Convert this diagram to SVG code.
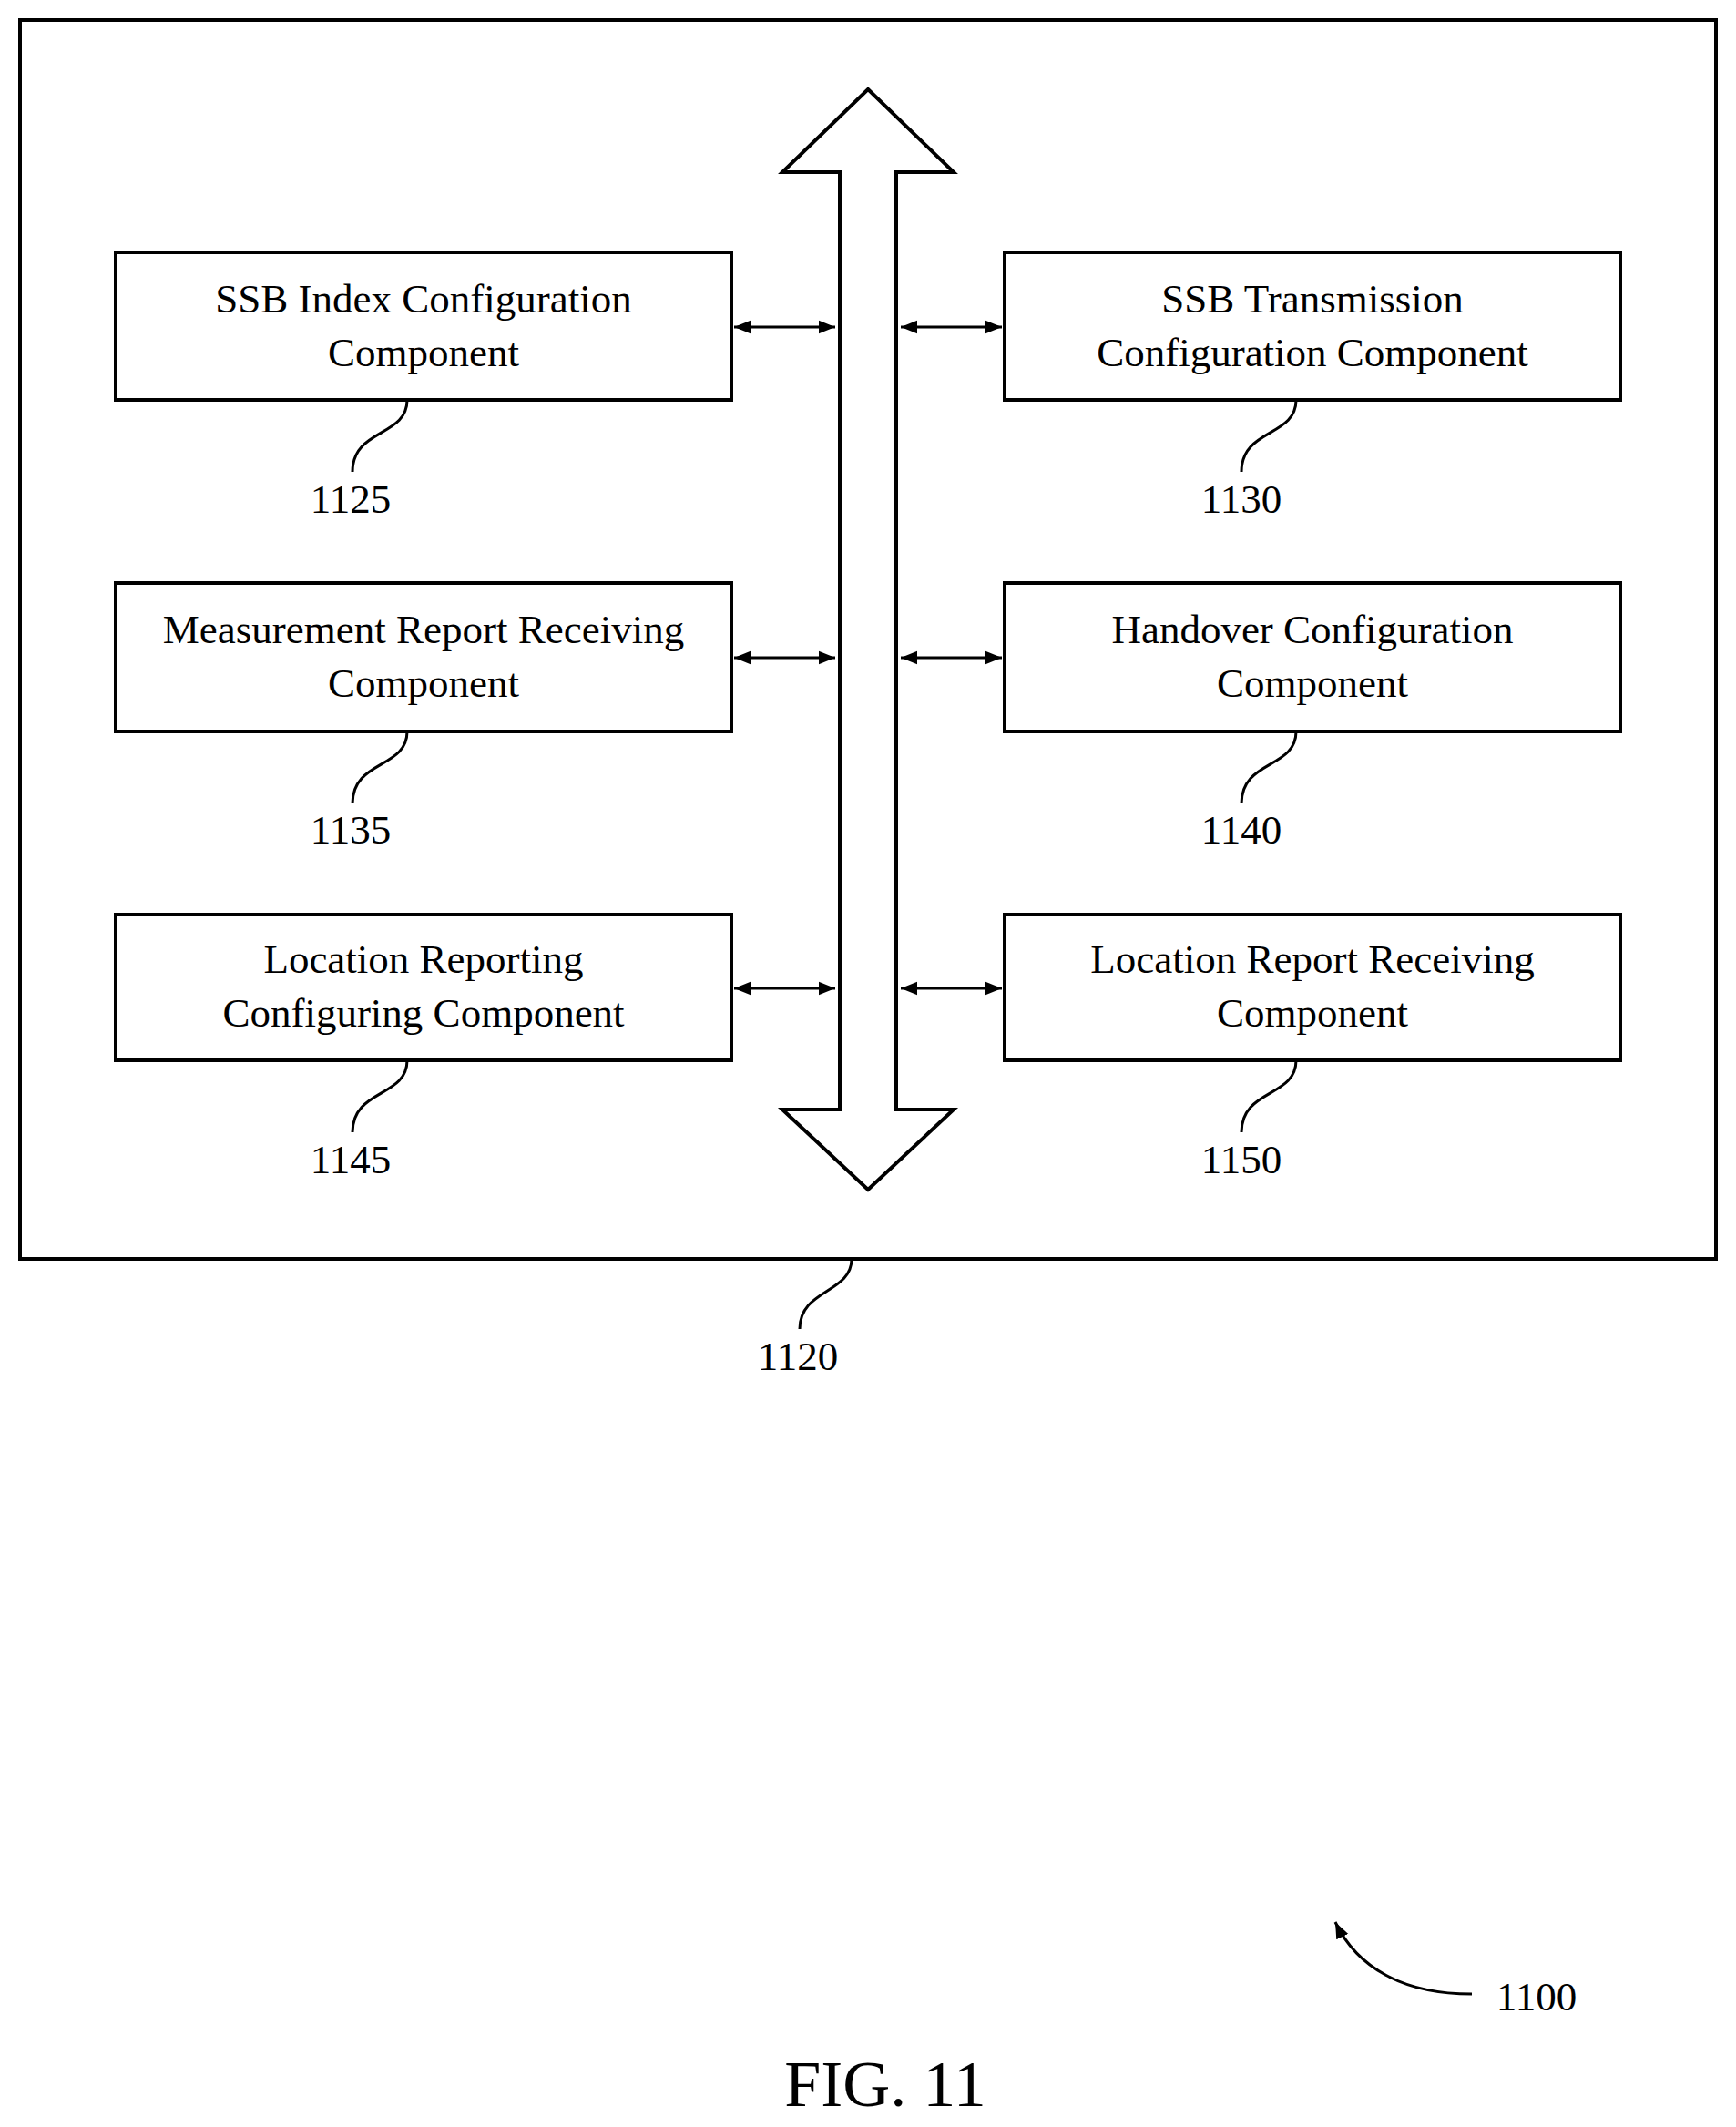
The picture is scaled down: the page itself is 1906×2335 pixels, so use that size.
<svg xmlns="http://www.w3.org/2000/svg" width="1906" height="2335" viewBox="0 0 1906 2335">
<style>
.b{fill:none;stroke:#000;stroke-width:4}
.l{fill:none;stroke:#000;stroke-width:3}
text{font-family:"Liberation Serif",serif;font-size:45px;fill:#000;text-anchor:middle}
</style>
<defs>
<marker id="a" viewBox="0 0 10 10" refX="10" refY="5" markerWidth="6" markerHeight="6" orient="auto-start-reverse" markerUnits="strokeWidth"><path d="M0,1 L10,5 L0,9 z" fill="#000"/></marker>
</defs>
<rect width="1906" height="2335" fill="#fff"/>
<g id="n1120"><rect class="b" x="22" y="22" width="1862" height="1360"/>
<path class="l" d="M935,1382 C935,1420 878,1415 878,1459"/><text x="876" y="1504">1120</text></g>
<g id="bus"><path class="b" d="M953,98 L1047,189 L984,189 L984,1218 L1047,1218 L953,1306 L859,1218 L922,1218 L922,189 L859,189 Z"/></g>
<g id="n1125"><rect class="b" x="127" y="277" width="676" height="162"/><text x="465" y="343">SSB Index Configuration</text><text x="465" y="402">Component</text>
<path class="l" d="M447,439 C447,480 387,470 387,518"/><text x="385" y="563">1125</text></g>
<g id="n1135"><rect class="b" x="127" y="640" width="676" height="163"/><text x="465" y="706">Measurement Report Receiving</text><text x="465" y="765">Component</text>
<path class="l" d="M447,803 C447,844 387,834 387,882"/><text x="385" y="926">1135</text></g>
<g id="n1145"><rect class="b" x="127" y="1004" width="676" height="160"/><text x="465" y="1068">Location Reporting</text><text x="465" y="1127">Configuring Component</text>
<path class="l" d="M447,1164 C447,1205 387,1195 387,1243"/><text x="385" y="1288">1145</text></g>
<g id="n1130"><rect class="b" x="1103" y="277" width="676" height="162"/><text x="1441" y="343">SSB Transmission</text><text x="1441" y="402">Configuration Component</text>
<path class="l" d="M1423,439 C1423,480 1363,470 1363,518"/><text x="1363" y="563">1130</text></g>
<g id="n1140"><rect class="b" x="1103" y="640" width="676" height="163"/><text x="1441" y="706">Handover Configuration</text><text x="1441" y="765">Component</text>
<path class="l" d="M1423,803 C1423,844 1363,834 1363,882"/><text x="1363" y="926">1140</text></g>
<g id="n1150"><rect class="b" x="1103" y="1004" width="676" height="160"/><text x="1441" y="1068">Location Report Receiving</text><text x="1441" y="1127">Component</text>
<path class="l" d="M1423,1164 C1423,1205 1363,1195 1363,1243"/><text x="1363" y="1288">1150</text></g>
<g id="connectors">
<line class="l" x1="806" y1="359" x2="917" y2="359" marker-start="url(#a)" marker-end="url(#a)"/>
<line class="l" x1="806" y1="722" x2="917" y2="722" marker-start="url(#a)" marker-end="url(#a)"/>
<line class="l" x1="806" y1="1085" x2="917" y2="1085" marker-start="url(#a)" marker-end="url(#a)"/>
<line class="l" x1="989" y1="359" x2="1100" y2="359" marker-start="url(#a)" marker-end="url(#a)"/>
<line class="l" x1="989" y1="722" x2="1100" y2="722" marker-start="url(#a)" marker-end="url(#a)"/>
<line class="l" x1="989" y1="1085" x2="1100" y2="1085" marker-start="url(#a)" marker-end="url(#a)"/>
</g>
<g id="n1100"><path class="l" d="M1616,2189 C1540,2189 1490,2160 1466,2110" marker-end="url(#a)"/><text x="1687" y="2207">1100</text></g>
<text x="972" y="2312" style="font-size:72px">FIG. 11</text>
</svg>
